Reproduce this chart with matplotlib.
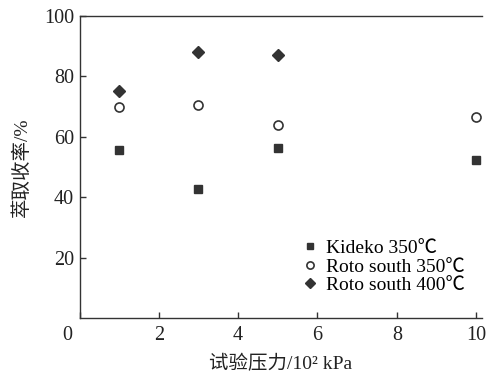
import matplotlib.pyplot as plt
import matplotlib.transforms as mtransforms

plt.rcParams['font.family'] = ['Liberation Serif', 'Noto Sans CJK SC']

# data
kideko_x = [1, 3, 5, 10]
kideko_y = [55.5, 42.8, 56.3, 52.4]
roto350_x = [1, 3, 5, 10]
roto350_y = [69.8, 70.5, 63.9, 66.5]
roto400_x = [1, 3, 5]
roto400_y = [75.3, 88.0, 87.1]

ink = '#333333'

fig = plt.figure(figsize=(4.92, 3.74), dpi=100)
ax = fig.add_axes([0.1616, 0.1497, 0.9797 - 0.1616, 0.957 - 0.1497])

ax.plot(kideko_x, kideko_y, 's', color=ink, ms=6, ls='none', label='Kideko 350℃')
ax.plot(roto350_x, roto350_y, 'o', mfc='white', mec=ink, mew=1.2, ms=6.5,
        ls='none', label='Roto south 350℃')
ax.plot(roto400_x, roto400_y, 'D', color=ink, ms=6.5, ls='none',
        label='Roto south 400℃')

ax.set_xlim(0, 10.15)
ax.set_ylim(0, 100)
ax.set_xticks([0, 2, 4, 6, 8, 10])
ax.set_yticks([20, 40, 60, 80, 100])

ax.spines['right'].set_visible(False)
for s in ['left', 'bottom', 'top']:
    ax.spines[s].set_color(ink)
    ax.spines[s].set_linewidth(1.0)

ax.tick_params(axis='both', direction='in', length=4, width=1, color=ink,
               labelsize=14.5, labelcolor='#222222')
ax.tick_params(axis='x', pad=6)
ax.tick_params(axis='y', pad=4)

# the shared origin "0" sits left of the corner
lab0 = ax.get_xticklabels()[0]
lab0.set_transform(lab0.get_transform() +
                   mtransforms.ScaledTranslation(-12 / 100, 0, fig.dpi_scale_trans))

ax.set_xlabel('试验压力/10² kPa', fontsize=14, color='#222222', labelpad=7)
ax.set_ylabel('萃取收率/%', fontsize=14, color='#222222', labelpad=9)

ax.legend(loc='lower left', bbox_to_anchor=(0.53, 0.047), frameon=False,
          fontsize=14, markerscale=0.8, handlelength=0.8, handletextpad=0.4,
          labelspacing=0.05, borderpad=0)

fig.savefig('out.png', dpi=100)
